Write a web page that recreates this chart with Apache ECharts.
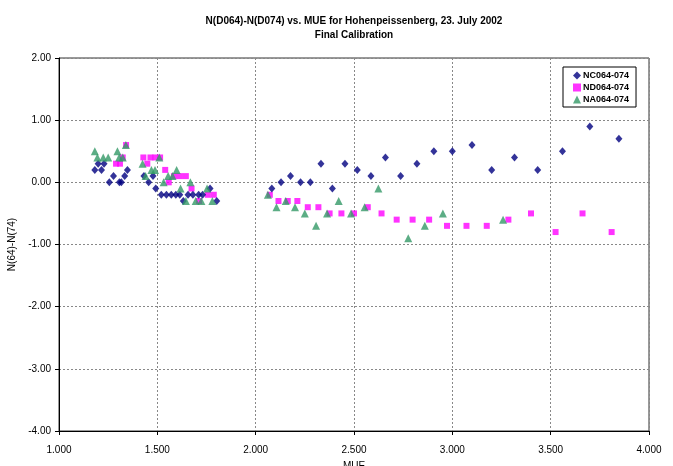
<!DOCTYPE html>
<html><head><meta charset="utf-8">
<script src="https://cdn.jsdelivr.net/npm/echarts@6/dist/echarts.min.js"></script>
<style>html,body{margin:0;padding:0;background:#fff}#c{width:673px;height:466px}</style>
</head><body><div id="c"></div>
<script>
var titleText = "N(D064)-N(D074) vs. MUE for Hohenpeissenberg, 23. July 2002";
var subtitleText = "Final Calibration";
var xAxisName = "MUE";
var yAxisName = "N(64)-N(74)";
var seriesNames = ["NC064-074", "ND064-074", "NA064-074"];

var ncX = [1.182,1.199,1.216,1.229,1.256,1.277,1.307,1.317,1.334,1.348,1.432,1.456,1.478,1.492,1.52,1.546,1.571,1.594,1.614,1.632,1.656,1.681,1.71,1.73,1.768,1.802,2.082,2.129,2.177,2.228,2.278,2.332,2.39,2.454,2.517,2.586,2.66,2.737,2.82,2.906,3.0,3.1,3.2,3.316,3.434,3.56,3.699,3.847];
var ncY = [0.2,0.3,0.2,0.3,0.0,0.1,0.0,0.0,0.1,0.2,0.1,0.0,0.1,-0.1,-0.2,-0.2,-0.2,-0.2,-0.2,-0.3,-0.2,-0.2,-0.2,-0.2,-0.1,-0.3,-0.1,0.0,0.1,0.0,0.0,0.3,-0.1,0.3,0.2,0.1,0.4,0.1,0.3,0.5,0.5,0.6,0.2,0.4,0.2,0.5,0.9,0.7];

var ndX = [1.29,1.31,1.324,1.341,1.429,1.449,1.465,1.49,1.514,1.54,1.558,1.585,1.615,1.645,1.674,1.712,1.757,1.787,2.072,2.116,2.163,2.212,2.265,2.319,2.376,2.436,2.5,2.57,2.64,2.717,2.798,2.882,2.973,3.072,3.175,3.285,3.40,3.525,3.662,3.81];
var ndY = [0.3,0.3,0.4,0.6,0.4,0.3,0.4,0.4,0.4,0.2,0.0,0.1,0.1,0.1,-0.1,-0.3,-0.2,-0.2,-0.2,-0.3,-0.3,-0.3,-0.4,-0.4,-0.5,-0.5,-0.5,-0.4,-0.5,-0.6,-0.6,-0.6,-0.7,-0.7,-0.7,-0.6,-0.5,-0.8,-0.5,-0.8];

var naX = [1.182,1.195,1.225,1.25,1.297,1.306,1.324,1.34,1.425,1.44,1.47,1.488,1.51,1.532,1.555,1.577,1.598,1.618,1.645,1.668,1.695,1.724,1.753,1.78,2.062,2.106,2.153,2.2,2.25,2.307,2.363,2.422,2.485,2.554,2.624,2.776,2.86,2.952,3.258];
var naY = [0.5,0.4,0.4,0.4,0.5,0.4,0.4,0.6,0.3,0.1,0.2,0.2,0.4,0.0,0.1,0.1,0.2,-0.1,-0.3,0.0,-0.3,-0.3,-0.1,-0.3,-0.2,-0.4,-0.3,-0.4,-0.5,-0.7,-0.5,-0.3,-0.5,-0.4,-0.1,-0.9,-0.7,-0.5,-0.6];

function pairs(xs, ys){ return xs.map(function(x,i){ return [x, ys[i]]; }); }

var FONT = "Liberation Sans, Arial, sans-serif";
var chart = echarts.init(document.getElementById('c'), null, {renderer:'canvas'});
chart.setOption({
  animation: false,
  backgroundColor: '#fff',
  title: [
    {text: titleText, left: 349, top: 11, textAlign: 'center',
     textStyle: {fontFamily: FONT, fontSize: 10, fontWeight: 'bold', color: '#000'}},
    {text: subtitleText, left: 349, top: 25, textAlign: 'center',
     textStyle: {fontFamily: FONT, fontSize: 10, fontWeight: 'bold', color: '#000'}}
  ],
  legend: {
    orient: 'vertical', left: 563, top: 67,
    padding: [4, 7, 3, 10], itemGap: 3, itemWidth: 8, itemHeight: 8,
    borderColor: '#000', borderWidth: 1, backgroundColor: '#fff',
    textStyle: {fontFamily: FONT, fontSize: 9, fontWeight: 'bold', color: '#000', padding: [0,0,0,-3]},
    data: seriesNames
  },
  grid: {left: 59, right: 24, top: 58, bottom: 35, containLabel: false, outerBoundsMode: 'none',
         show: true, borderColor: '#333', borderWidth: 1, backgroundColor: 'transparent'},
  xAxis: {
    type: 'value', min: 1, max: 4, interval: 0.5,
    name: xAxisName, nameLocation: 'middle', nameGap: 30,
    nameTextStyle: {fontFamily: FONT, fontSize: 10, color: '#000', verticalAlign: 'top'},
    axisLine: {show: true, onZero: false, lineStyle: {color: '#000', width: 1}},
    axisTick: {show: true, length: 4, lineStyle: {color: '#000'}},
    axisLabel: {fontFamily: FONT, fontSize: 10, color: '#000', margin: 14, formatter: function(v){ return v.toFixed(3); }},
    splitLine: {show: true, lineStyle: {color: '#888', type: [2,2], width: 1}}
  },
  yAxis: {
    type: 'value', min: -4, max: 2, interval: 1,
    name: yAxisName, nameLocation: 'middle', nameGap: 40, nameRotate: 90,
    nameTextStyle: {fontFamily: FONT, fontSize: 10, color: '#000'},
    axisLine: {show: true, onZero: false, lineStyle: {color: '#000', width: 1}},
    axisTick: {show: true, length: 4, lineStyle: {color: '#000'}},
    axisLabel: {fontFamily: FONT, fontSize: 10, color: '#000', margin: 8, formatter: function(v){ return v.toFixed(2); }},
    splitLine: {show: true, lineStyle: {color: '#888', type: [2,2], width: 1}}
  },
  series: [
    {name: seriesNames[0], type: 'scatter', symbol: 'diamond', symbolSize: [7,8],
     itemStyle: {color: '#000080'}, data: pairs(ncX, ncY), z: 3},
    {name: seriesNames[1], type: 'scatter', symbol: 'rect', symbolSize: 6,
     itemStyle: {color: '#FF00FF'}, data: pairs(ndX, ndY), z: 2},
    {name: seriesNames[2], type: 'scatter', symbol: 'triangle', symbolSize: 8,
     itemStyle: {color: '#339966'}, data: pairs(naX, naY), z: 4}
  ]
});
</script></body></html>
